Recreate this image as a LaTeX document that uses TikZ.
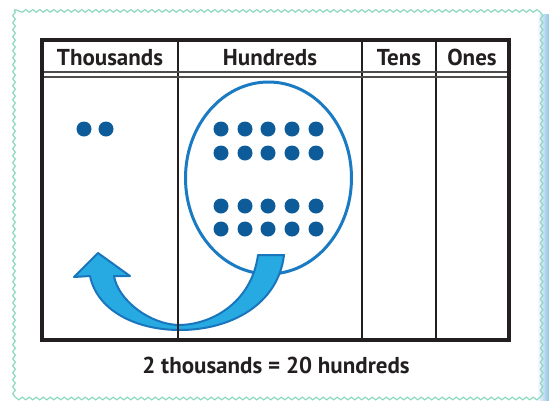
\documentclass[tikz,border=0pt]{standalone}
\usepackage{fontspec}
\setmainfont{PT Sans}
\usetikzlibrary{decorations.pathmorphing, shapes.geometric}
\definecolor{waveedge}{HTML}{8DD9BF}
\definecolor{shadeblue}{HTML}{8FC3E6}
\definecolor{inkgray}{HTML}{231F20}
\definecolor{beadblue}{HTML}{0D5C99}
\definecolor{ringblue}{HTML}{1B7BC2}
\definecolor{swoopfill}{HTML}{27A9E1}
\definecolor{swoopedge}{HTML}{1A76BC}
\begin{document}
\begin{tikzpicture}[x=1pt, y=-1pt, inner sep=0pt, >=stealth,
  head/.style={anchor=base, font=\bfseries\fontsize{23}{26}\selectfont, text=inkgray},
  bead/.style={circle, minimum size=15pt, fill=beadblue}]
\useasboundingbox (0,0) rectangle (549,400);
% frame with shadow:
\shade[left color=white, right color=shadeblue] (537,14) rectangle (549,400);
\fill[white] (14,10) rectangle (537,397);
\draw[waveedge, line width=1.2pt, decorate, decoration={snake, segment length=7pt, amplitude=1.3pt}] (14,10) rectangle (537,397);
% column titles:
\node (thou) at (110,65) [head] {Thousands};
\node (hund) at (270,65) [head] {Hundreds};
\node (tens) at (399,65) [head] {Tens};
\node (ones) at (472,65) [head] {Ones};
% beads:
\node (t1) at (84,129) [bead] {};
\node (t2) at (106,129) [bead] {};
\foreach \y [count=\i] in {129,153,206,229}
  \foreach \x [count=\j] in {221,245,268,292,316}
    \node (h\i\j) at (\x,\y) [bead] {};
% ring round the hundreds:
\node (ring) at (268.5,178) [ellipse, draw=ringblue, line width=3pt, minimum width=166pt, minimum height=192pt] {};
% swoop arrow:
\coordinate (tail) at (271,255);
\coordinate (tip) at (98,253);
\filldraw[fill=swoopfill, draw=swoopedge, line width=2pt, line join=round]
  (258,255) .. controls (252,300) and (215,324) .. (180,325)
  .. controls (150,325) and (118,300) .. (114,276)
  -- (130,276) -- (tip) -- (74,277) -- (90,276)
  .. controls (97,310) and (135,330) .. (180,330)
  .. controls (230,330) and (278,305) .. (284,255) -- cycle;
% table rules:
\draw[inkgray, line width=1.8pt] (178,40) -- (178,340) (362,40) -- (362,340) (436,40) -- (436,340);
\draw[inkgray!80, line width=1.2pt] (44,72) -- (507,72) (44,77) -- (507,77);
\draw[inkgray, line width=4pt] (42,40) rectangle (509,340);
% caption:
\node (sum) at (276,373) [head] {2 thousands = 20 hundreds};
\end{tikzpicture}
\end{document}
